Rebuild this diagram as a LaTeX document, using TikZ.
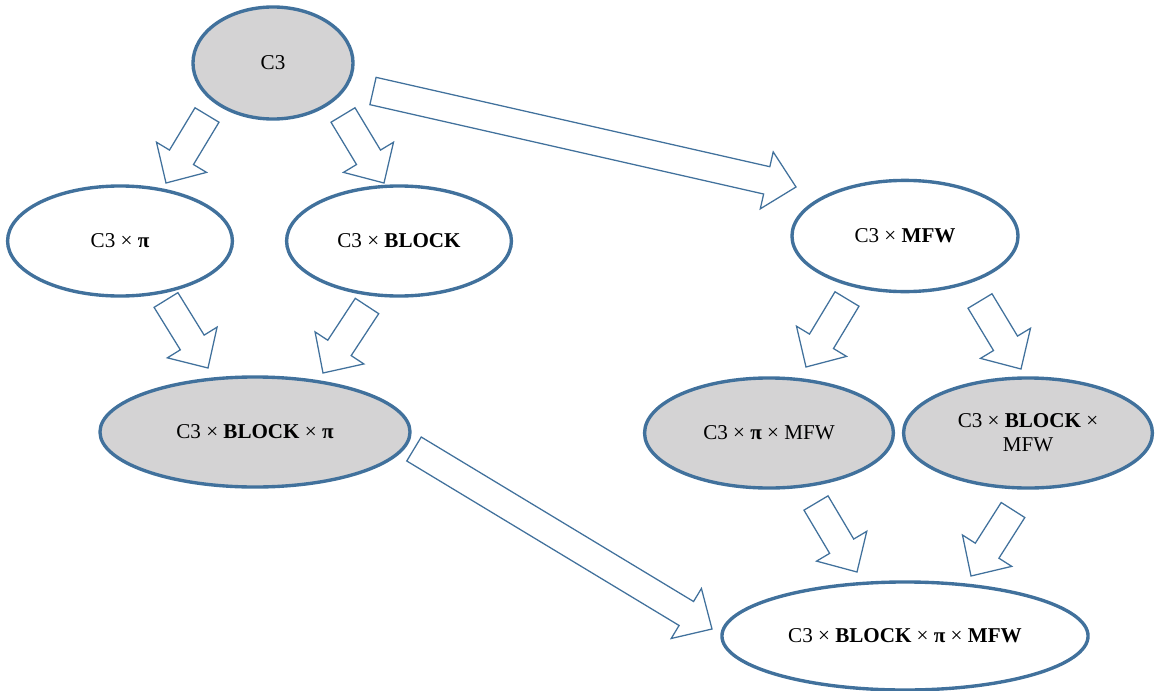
\documentclass[tikz,border=0pt]{standalone}
\usepackage{fontspec}
\setmainfont{Liberation Serif}
\usetikzlibrary{shapes.geometric,calc}

\definecolor{edgeblue}{RGB}{65,113,156}
\definecolor{cellgray}{RGB}{212,211,212}

\tikzset{
    model/.style={ellipse,draw=edgeblue,line width=2.4pt,fill=white,inner sep=0pt,
        font=\fontsize{15}{17}\selectfont,align=center},
    marked/.style={model,fill=cellgray},
    blockarrow/.style={draw=edgeblue,line width=0.9pt,fill=white,line join=miter}
}

% hollow block arrow from #1 (tail) to #2 (tip)
\newcommand{\hollowarrow}[2]{%
    \path ($(#2)!0.75cm!(#1)$) coordinate (hb);
    \draw[blockarrow] ($(#1)!0.35cm!90:(#2)$) -- ($(hb)!0.35cm!90:(#2)$)
        -- ($(hb)!0.73cm!90:(#2)$) -- (#2) -- ($(hb)!0.73cm!-90:(#2)$)
        -- ($(hb)!0.35cm!-90:(#2)$) -- ($(#1)!0.35cm!-90:(#2)$) -- cycle;}

\begin{document}
\begin{tikzpicture}[x=0.025cm,y=-0.025cm]
    \useasboundingbox (0,0) rectangle (1160,691);

    % Models
    \node[marked,minimum width=4cm,minimum height=2.8cm] (c3) at (273,63) {C3};
    \node[model,minimum width=5.62cm,minimum height=2.75cm] (cpi) at (120,241) {C3 × \textbf{π}};
    \node[model,minimum width=5.62cm,minimum height=2.75cm] (cblock) at (399,241) {C3 × \textbf{BLOCK}};
    \node[marked,minimum width=7.75cm,minimum height=2.75cm] (cblockpi) at (255,432) {C3 × \textbf{BLOCK} × \textbf{π}};
    \node[model,minimum width=5.65cm,minimum height=2.78cm] (cmfw) at (905,236) {C3 × \textbf{MFW}};
    \node[marked,minimum width=6.22cm,minimum height=2.75cm] (cpimfw) at (769,433) {C3 × \textbf{π} × MFW};
    \node[marked,minimum width=6.22cm,minimum height=2.75cm] (cblockmfw) at (1028,433) {C3 × \textbf{BLOCK} ×\\MFW};
    \node[model,minimum width=9.15cm,minimum height=2.7cm] (call) at (905,636) {C3 × \textbf{BLOCK} × \textbf{π} × \textbf{MFW}};

    % Arrow ends
    \coordinate (s1) at (207,115);  \coordinate (e1) at (166,183);
    \coordinate (s2) at (343,115);  \coordinate (e2) at (384,183);
    \coordinate (s3) at (373,91);   \coordinate (e3) at (796,187);
    \coordinate (s4) at (166,300);  \coordinate (e4) at (208,368);
    \coordinate (s5) at (367,306);  \coordinate (e5) at (323,373);
    \coordinate (s6) at (847,299);  \coordinate (e6) at (806,367);
    \coordinate (s7) at (980,301);  \coordinate (e7) at (1021,369);
    \coordinate (s8) at (816,503);  \coordinate (e8) at (857,572);
    \coordinate (s9) at (1013,510); \coordinate (e9) at (971,576);
    \coordinate (s10) at (414,449); \coordinate (e10) at (712,629);

    % Arrows
    \foreach \i in {1,...,10} {
        \hollowarrow{s\i}{e\i}
    }
\end{tikzpicture}
\end{document}
